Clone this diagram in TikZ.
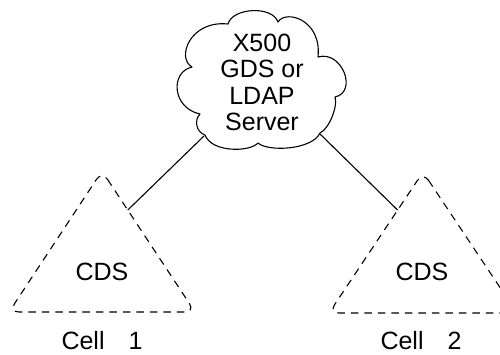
\documentclass[tikz,border=0pt]{standalone}
\usepackage{fontspec}
\setmainfont{Liberation Sans}
\usetikzlibrary{calc}
\begin{document}
\begin{tikzpicture}[x=1pt,y=-1pt,
  lbl/.style={font=\fontsize{25}{26.5}\selectfont, inner sep=0pt},
  cellbox/.style={draw, dash pattern=on 7.5pt off 6pt, line width=1.1pt, rounded corners=10pt},
  link/.style={line width=1.1pt},
  cloudline/.style={line width=1.1pt, line join=round}]
\useasboundingbox (0,0) rectangle (500,354);
\clip (0,0) rectangle (500,354);
% cloud
\draw[cloudline] (228,24) .. controls (232,8) and (272,5) .. (278,22)
  .. controls (286,9) and (322,20) .. (318,57)
  .. controls (342,50) and (358,92) .. (335,97)
  .. controls (338,105) and (330,128) .. (320,133)
  .. controls (312,150) and (268,152) .. (258,143)
  .. controls (250,152) and (212,153) .. (205,135)
  .. controls (196,132) and (194,120) .. (200,114)
  .. controls (172,108) and (170,72) .. (192,67)
  .. controls (176,58) and (190,20) .. cycle;
\node[lbl, align=center] (srv) at (262,82.5) {X500\\GDS or\\LDAP\\Server};
\coordinate (cl) at (204,136);
\coordinate (cr) at (320,134);
% triangles
\coordinate (l1) at (102,171);
\coordinate (l2) at (9,312);
\coordinate (l3) at (195,312);
\coordinate (r1) at (423,172);
\coordinate (r2) at (329,313);
\coordinate (r3) at (517,313);
\draw[cellbox] (l1) -- (l3) -- (l2) -- cycle;
\draw[cellbox] (r1) -- (r3) -- (r2) -- cycle;
\coordinate (t1) at ($(l1)!0.277!(l3)$);
\coordinate (t2) at ($(r1)!0.27!(r2)$);
\draw[link] (cl) -- (t1);
\draw[link] (cr) -- (t2);
\node[lbl, anchor=base] (cds1) at (102,280) {CDS};
\node[lbl, anchor=base] (cds2) at (422,280) {CDS};
\node[lbl, anchor=base] (cell1) at (102,349) {Cell\hspace{24pt}1};
\node[lbl, anchor=base] (cell2) at (421,349) {Cell\hspace{24pt}2};
\end{tikzpicture}
\end{document}
